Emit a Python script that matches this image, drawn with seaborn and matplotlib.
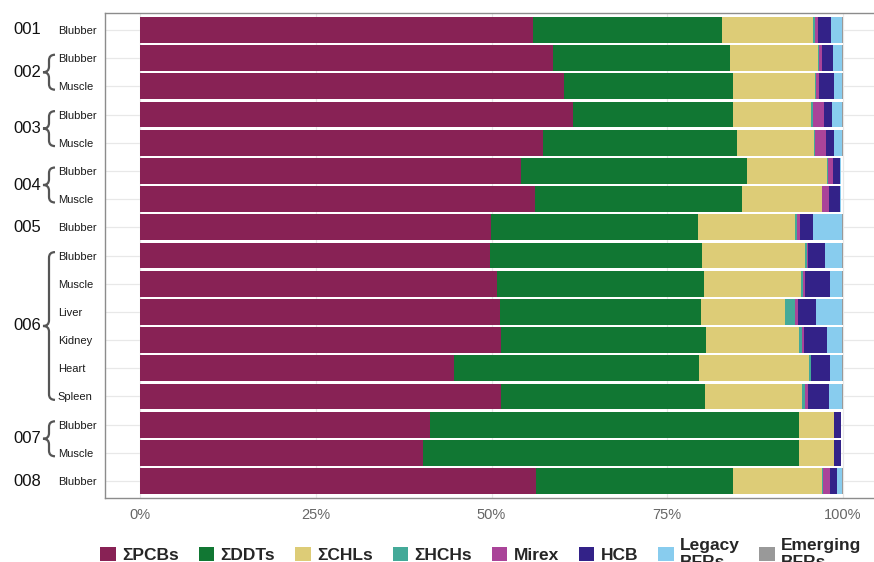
import numpy as np
import pandas as pd
import matplotlib
matplotlib.use("Agg")
import matplotlib.pyplot as plt
import matplotlib.transforms as mtransforms
from matplotlib.path import Path
from matplotlib.patches import PathPatch, Patch
import seaborn as sns

# Animal ID and tissue for every bar, top to bottom
animal = ["001", "002", "002", "003", "003", "004", "004", "005",
          "006", "006", "006", "006", "006", "006", "007", "007", "008"]
tissue = ["Blubber", "Blubber", "Muscle", "Blubber", "Muscle", "Blubber", "Muscle",
          "Blubber", "Blubber", "Muscle", "Liver", "Kidney", "Heart", "Spleen",
          "Blubber", "Muscle", "Blubber"]

# Percent contribution of each contaminant class
pcbs = [55.9, 58.7, 60.3, 61.6, 57.3, 54.2, 56.2, 49.9, 49.8, 50.8, 51.2, 51.3, 44.6, 51.4, 41.3, 40.3, 56.4]
ddts = [26.9, 25.3, 24.1, 22.8, 27.6, 32.1, 29.4, 29.5, 30.1, 29.4, 28.6, 29.2, 34.9, 29.0, 52.4, 53.4, 27.9]
chls = [13.0, 12.5, 11.7, 11.1, 11.0, 11.5, 11.4, 13.8, 14.7, 13.8, 11.9, 13.2, 15.7, 13.8, 5.1, 5.1, 12.7]
hchs = [0.3, 0.1, 0.1, 0.2, 0.1, 0.1, 0.0, 0.3, 0.3, 0.3, 1.5, 0.5, 0.2, 0.4, 0.0, 0.0, 0.2]
mirex = [0.3, 0.4, 0.4, 1.6, 1.6, 0.7, 1.0, 0.4, 0.1, 0.3, 0.4, 0.3, 0.1, 0.4, 0.0, 0.0, 0.9]
hcb = [1.9, 1.6, 2.1, 1.2, 1.2, 1.0, 1.6, 1.9, 2.5, 3.5, 2.6, 3.2, 2.7, 3.0, 0.9, 0.9, 1.0]
legacy_bfrs = [1.6, 1.3, 1.2, 1.4, 1.1, 0.1, 0.1, 4.1, 2.4, 1.8, 3.7, 2.2, 1.7, 1.9, 0.1, 0.1, 0.8]
emerging_bfrs = [0.1, 0.1, 0.1, 0.1, 0.1, 0.0, 0.0, 0.1, 0.1, 0.1, 0.1, 0.1, 0.1, 0.1, 0.0, 0.0, 0.1]

classes = ["ΣPCBs", "ΣDDTs", "ΣCHLs", "ΣHCHs", "Mirex", "HCB", "Legacy\nBFRs", "Emerging\nBFRs"]
series = [pcbs, ddts, chls, hchs, mirex, hcb, legacy_bfrs, emerging_bfrs]
colors = ["#882255", "#117733", "#DDCC77", "#44AA99", "#AA4499", "#332288", "#88CCEE", "#999999"]

sns.set_theme(style="white")
plt.rcParams["font.family"] = ["Liberation Sans", "DejaVu Sans"]

row_id = [f"r{i}" for i in range(len(tissue))]
df = pd.DataFrame({name: vals for name, vals in zip(classes, series)})
df["row"] = row_id
cum = df[classes].cumsum(axis=1)

W, H = 874, 562
fig = plt.figure(figsize=(W / 100, H / 100), dpi=100)
ax = fig.add_axes([105 / W, 1 - 498 / H, (878 - 105) / W, (498 - 13) / H])

# Stacked bars: cumulative totals drawn from the outermost class inwards
for name, col in reversed(list(zip(classes, colors))):
    sns.barplot(x=cum[name].values, y=df["row"], order=row_id, orient="h",
                color=col, width=0.92, linewidth=0, errorbar=None, ax=ax,
                saturation=1, zorder=3)

ax.set_xlim(-5, 105)
ax.set_ylim(len(row_id) - 0.4, -0.6)
ax.set_xticks([0, 25, 50, 75, 100])
ax.set_xticklabels([f"{v}%" for v in [0, 25, 50, 75, 100]], fontsize=10.5, color="#666666")
ax.set_yticks(range(len(row_id)))
ax.set_yticklabels(tissue, fontsize=8, color="#1a1a1a")
ax.set_xlabel("")
ax.set_ylabel("")
ax.grid(True, color="#e8e8e8", linewidth=0.9, zorder=0)
ax.set_axisbelow(True)
for s in ax.spines.values():
    s.set_color("#8c8c8c")
    s.set_linewidth(1.0)
ax.tick_params(axis="both", length=3, width=0.8, color="#8c8c8c")
ax.tick_params(axis="y", pad=31)
ax.tick_params(axis="x", pad=4)
for lbl in ax.get_yticklabels():
    lbl.set_horizontalalignment("left")

# Animal ID labels with braces grouping the tissues
trans = mtransforms.blended_transform_factory(fig.transFigure, ax.transData)
groups = []
for i, a in enumerate(animal):
    if groups and groups[-1][0] == a:
        groups[-1][2] = i
    else:
        groups.append([a, i, i])

xr, xc, xl = 55 / W, 49 / W, 43 / W
for a, i0, i1 in groups:
    ym = (i0 + i1) / 2
    ax.annotate(a, xy=(41 / W, ym), xycoords=trans, ha="right", va="center",
                fontsize=12, color="#111111", annotation_clip=False)
    if i1 > i0:
        yt, yb = i0 - 0.12, i1 + 0.12
        r = 0.2
        verts = [(xr, yt), (xc, yt), (xc, yt + r),
                 (xc, ym - r), (xc, ym), (xl, ym),
                 (xc, ym), (xc, ym + r),
                 (xc, yb - r), (xc, yb), (xr, yb)]
        codes = [Path.MOVETO, Path.CURVE3, Path.CURVE3,
                 Path.LINETO, Path.CURVE3, Path.CURVE3,
                 Path.CURVE3, Path.CURVE3,
                 Path.LINETO, Path.CURVE3, Path.CURVE3]
        patch = PathPatch(Path(verts, codes), transform=trans, fill=False,
                          edgecolor="#555555", linewidth=1.6, clip_on=False)
        fig.add_artist(patch)

handles = [Patch(facecolor=c, edgecolor="none") for c in colors]
fig.legend(handles, classes, loc="center", bbox_to_anchor=(481 / W, 1 - 554 / H),
           ncol=8, frameon=False, prop={"weight": "bold", "size": 12.5},
           handlelength=0.9, handleheight=0.9, handletextpad=0.35,
           columnspacing=1.15, borderaxespad=0, labelspacing=0.2)

fig.savefig("out.png", dpi=100)
